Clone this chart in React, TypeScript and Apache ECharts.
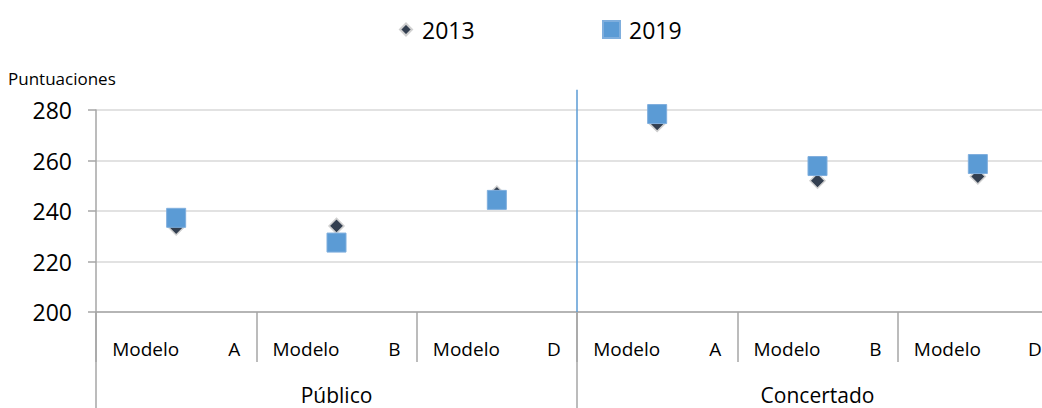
import React, { useEffect, useRef } from "react";
import * as echarts from "echarts";

const categories = ["Modelo A", "Modelo B", "Modelo D", "Modelo A", "Modelo B", "Modelo D"];
const groups = ["Público", "Concertado"];
const values2013 = [233.5, 234.1, 246.9, 274.5, 252.0, 253.7];
const values2019 = [237.3, 227.5, 244.4, 278.4, 257.8, 258.6];
const seriesNames = ["2013", "2019"];
const yTicks = { min: 200, max: 280, interval: 20 };
const yAxisTitle = "Puntuaciones";
const dividerX = 3; // boundary between the two groups (in category units)
const dividerY = [200, 288];

const FONT = "'Open Sans', 'Liberation Sans', sans-serif";
const GRAY = "#A6A6A6";

export default function App() {
  const ref = useRef<HTMLDivElement>(null);
  useEffect(() => {
    if (!ref.current) return;
    const chart = echarts.init(ref.current, null, { renderer: "svg" });
    chart.setOption({
      animation: false,
      backgroundColor: "#ffffff",
      textStyle: { fontFamily: FONT },
      grid: {
        left: 96,
        top: 110,
        width: 962,
        height: 202,
        containLabel: false,
        outerBoundsMode: "none",
      },
      legend: [
        {
          data: [seriesNames[0]],
          left: 394,
          top: 13,
          itemWidth: 12,
          itemHeight: 12,
          textStyle: { fontSize: 23, color: "#000", fontFamily: FONT, padding: [0, 0, 0, 5] },
        },
        {
          data: [seriesNames[1]],
          left: 597,
          top: 13,
          itemWidth: 17,
          itemHeight: 17,
          textStyle: { fontSize: 23, color: "#000", fontFamily: FONT, padding: [0, 0, 0, 4] },
        },
      ],
      graphic: [
        {
          type: "text",
          left: 8,
          top: 70,
          style: { text: yAxisTitle, font: `17px ${FONT}`, fill: "#000" },
        },
      ],
      xAxis: [
        {
          type: "category",
          data: categories,
          position: "bottom",
          boundaryGap: true,
          axisLine: { show: true, lineStyle: { color: GRAY, width: 1.5 } },
          axisTick: { show: true, interval: 0, length: 50, lineStyle: { color: GRAY, width: 1.5 } },
          axisLabel: {
            interval: 0,
            margin: 27,
            formatter: (v: string) => {
              const parts = v.split(" ");
              return `{m|${parts[0]}}{l|${parts[1]}}`;
            },
            rich: {
              m: { width: 112, align: "left", fontSize: 19, fontFamily: FONT, color: "#000" },
              l: { width: 16, align: "right", fontSize: 19, fontFamily: FONT, color: "#000" },
            },
          },
          splitLine: { show: false },
        },
        {
          type: "category",
          data: groups,
          position: "bottom",
          boundaryGap: true,
          axisLine: { show: false },
          axisTick: { show: true, interval: 0, length: 96, lineStyle: { color: GRAY, width: 1.5 } },
          axisLabel: { interval: 0, margin: 72, fontSize: 21, color: "#000", fontFamily: FONT },
          splitLine: { show: false },
        },
        {
          type: "value",
          min: 0,
          max: categories.length,
          show: false,
          splitLine: { show: false },
        },
      ],
      yAxis: {
        type: "value",
        min: yTicks.min,
        max: yTicks.max,
        interval: yTicks.interval,
        axisLine: { show: true, lineStyle: { color: GRAY, width: 1.5 } },
        axisTick: { show: true, length: 8, lineStyle: { color: GRAY, width: 1.5 } },
        axisLabel: { margin: 24, fontSize: 23, color: "#000", fontFamily: FONT },
        splitLine: { show: true, lineStyle: { color: "#D9D9D9", width: 1.5 } },
      },
      series: [
        {
          name: seriesNames[0],
          type: "scatter",
          xAxisIndex: 0,
          symbol: "diamond",
          symbolSize: 15,
          data: values2013,
          itemStyle: { color: "#333F50", borderColor: "#D0D0D0", borderWidth: 1.5, opacity: 1 },
          z: 3,
        },
        {
          name: seriesNames[1],
          type: "scatter",
          xAxisIndex: 0,
          symbol: "rect",
          symbolSize: 19,
          data: values2019,
          itemStyle: { color: "#5B9BD5", borderColor: "#7FAEDD", borderWidth: 1, opacity: 1 },
          z: 4,
        },
        {
          name: "divisor",
          type: "line",
          xAxisIndex: 2,
          data: [
            [dividerX, dividerY[0]],
            [dividerX, dividerY[1]],
          ],
          clip: false,
          symbol: "none",
          lineStyle: { color: "#5B9BD5", width: 1.5 },
          silent: true,
          z: 2,
        },
      ],
    });
    return () => chart.dispose();
  }, []);
  return <div ref={ref} style={{ width: 1042, height: 408, position: "absolute", left: 0, top: 0 }} />;
}
